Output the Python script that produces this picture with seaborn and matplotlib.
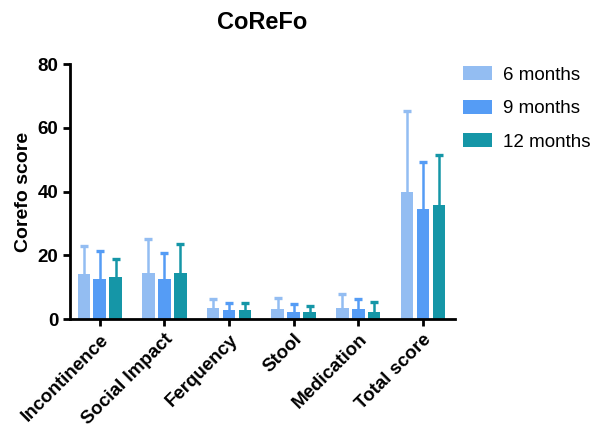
import numpy as np
import pandas as pd
import matplotlib
matplotlib.use('Agg')
import matplotlib.pyplot as plt
import seaborn as sns

#-----------------
## Data
categories = ['Incontinence', 'Social Impact', 'Ferquency', 'Stool', 'Medication', 'Total score']
groups = ['6 months', '9 months', '12 months']

mean_6m = [14.0, 14.5, 3.5, 3.3, 3.5, 39.9]
mean_9m = [12.6, 12.6, 2.8, 2.1, 3.2, 34.5]
mean_12m = [13.2, 14.3, 2.9, 2.1, 2.3, 35.7]

# upper end of the SD whiskers
top_6m = [22.9, 25.2, 6.2, 6.5, 7.9, 65.3]
top_9m = [21.2, 20.6, 5.0, 4.6, 6.3, 49.4]
top_12m = [18.9, 23.7, 5.0, 4.2, 5.2, 51.5]

colors = ['#93BDF2', '#559CF5', '#1596A7']

#-----------------
## Long table for seaborn
means = [mean_6m, mean_9m, mean_12m]
tops = [top_6m, top_9m, top_12m]
rows = []
for g, m, t in zip(groups, means, tops):
    for c, v, e in zip(categories, m, t):
        rows.append({'category': c, 'group': g, 'score': v, 'sd': e - v})
df = pd.DataFrame(rows)

sns.set_style('ticks')
plt.rcParams['font.family'] = ['Liberation Sans', 'DejaVu Sans']
plt.rcParams['text.color'] = 'black'
plt.rcParams['axes.labelcolor'] = 'black'

fig = plt.figure(figsize=(6.03, 4.30), dpi=100)
ax = fig.add_axes([0.116, 0.258, 0.639, 0.593])

sns.barplot(data=df, x='category', y='score', hue='group', order=categories,
            hue_order=groups, palette=colors, width=0.74, gap=0.22,
            errorbar=None, saturation=1, linewidth=0, zorder=2, ax=ax)

# upward-only error bars (SD), behind the bars, no cap at the bar top
for container, g, col in zip(ax.containers, groups, colors):
    sub = df[df['group'] == g].set_index('category').loc[categories]
    xs = [p.get_x() + p.get_width() / 2 for p in container.patches]
    eb = ax.errorbar(xs, sub['score'], yerr=[np.zeros(len(xs)), sub['sd']],
                     fmt='none', ecolor=col, elinewidth=1.8, capsize=3,
                     capthick=2.4, zorder=1)
    eb[1][0].set_visible(False)

ax.set_ylim(0, 80)
ax.set_yticks([0, 20, 40, 60, 80])
ax.set_xlim(-0.46, 5.5)
sns.despine(ax=ax)
for s in ['left', 'bottom']:
    ax.spines[s].set_linewidth(2)
    ax.spines[s].set_color('black')
    ax.spines[s].set_zorder(3)
ax.tick_params(axis='both', width=2, length=5, labelsize=13.5, colors='black')
for lab in ax.get_yticklabels():
    lab.set_fontweight('bold')
ax.set_xticks(range(len(categories)))
ax.set_xticklabels(categories, rotation=45, ha='right', rotation_mode='anchor',
                   fontweight='bold', fontsize=13.5)
ax.set_xlabel('')
ax.set_ylabel('Corefo score', fontsize=14, fontweight='bold', labelpad=4, color='black')
ax.set_title('CoReFo', fontsize=17, fontweight='bold', pad=25, color='black')

leg = ax.legend(title=None, frameon=False, loc='upper left', bbox_to_anchor=(1.0, 1.02),
                fontsize=13.5, handlelength=1.55, handleheight=0.75, labelspacing=0.85,
                handletextpad=0.6, borderaxespad=0)
for t in leg.get_texts():
    t.set_color('black')

fig.savefig('out.png', dpi=100)
